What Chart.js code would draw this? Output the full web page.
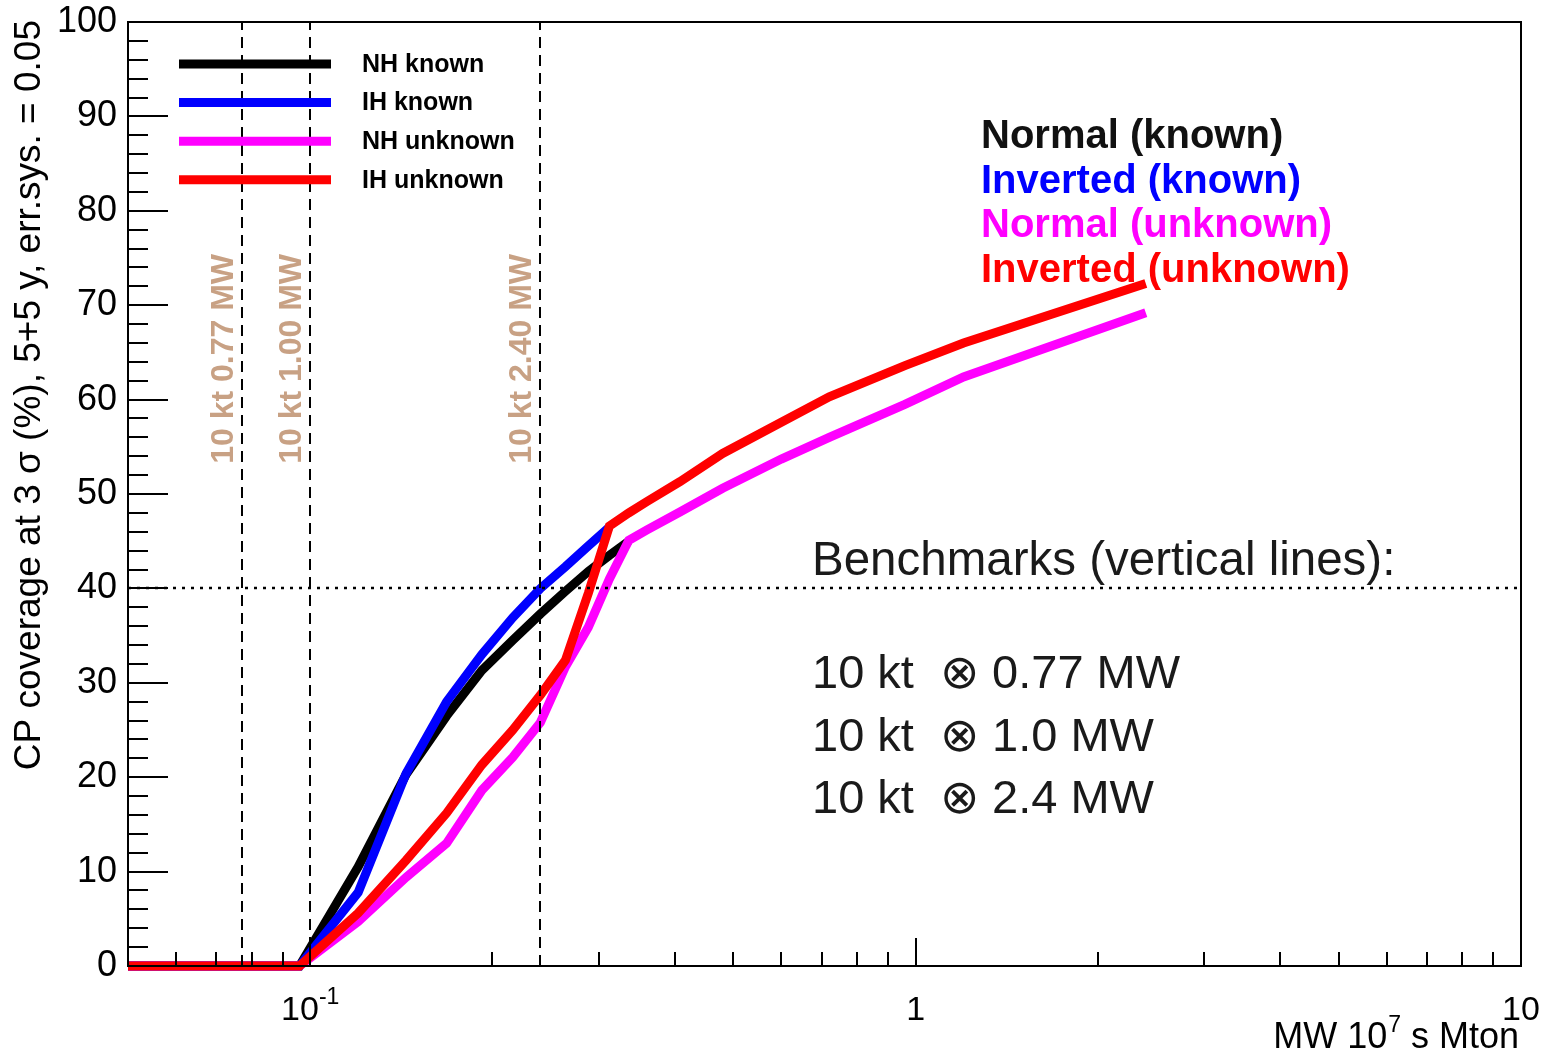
<!DOCTYPE html>
<html>
<head>
<meta charset="utf-8">
<title>CP coverage vs exposure</title>
<script src="https://cdn.jsdelivr.net/npm/chart.js@4.4.1/dist/chart.umd.min.js"></script>
<style>
  html, body { margin: 0; padding: 0; background: #fff; }
  canvas { display: block; }
</style>
</head>
<body>
<canvas id="cpChart" width="1549" height="1055"></canvas>
<script>
// exposure in MW 10^7 s Mton
const exposure = [0.048, 0.072, 0.096, 0.12, 0.144, 0.168, 0.192, 0.216, 0.24, 0.264, 0.288, 0.312, 0.336, 0.36, 0.408, 0.48, 0.6, 0.72, 0.96, 1.2, 2.4];

// CP coverage at 3 sigma (%) for each hierarchy assumption
const nhKnown   = [0, 0, 0, 10.5, 20.3, 26.5, 31.3, 34.5, 37.3, 39.7, 41.8, 43.5, 45.0, null, null, null, null, null, null, null, null];
const ihKnown   = [0, 0, 0, 7.8, 20.4, 28.0, 33.0, 36.9, 40.0, 42.3, 44.5, 46.5, null, null, null, null, null, null, null, null, null];
const nhUnknown = [0, 0, 0, 4.7, 9.4, 13.0, 18.6, 22.1, 25.8, 31.7, 35.9, 41.0, 45.1, 46.2, 48.1, 50.6, 53.7, 56.0, 59.5, 62.4, 69.2];
const ihUnknown = [0, 0, 0, 5.6, 11.2, 16.2, 21.3, 25.0, 28.7, 32.4, 39.5, 46.6, 48.0, 49.2, 51.3, 54.3, 57.6, 60.3, 63.6, 66.0, 72.3];

const seriesNames  = ['NH known', 'IH known', 'NH unknown', 'IH unknown'];
const seriesColors = ['#000000', '#0000ff', '#ff00ff', '#ff0000'];
const hierarchyText = ['Normal (known)', 'Inverted (known)', 'Normal (unknown)', 'Inverted (unknown)'];

// benchmark exposures (vertical lines)
const benchmarks = [0.077, 0.1, 0.24];
const benchmarkTags = ['10 kt 0.77 MW', '10 kt 1.00 MW', '10 kt 2.40 MW'];
const benchmarkRows = ['10 kt  \u2297 0.77 MW', '10 kt  \u2297 1.0 MW', '10 kt  \u2297 2.4 MW'];
const coverageLevel = 40;

const xMajor = [0.1, 1, 10];
const xMinor = [0.06, 0.07, 0.08, 0.09, 0.2, 0.3, 0.4, 0.5, 0.6, 0.7, 0.8, 0.9, 2, 3, 4, 5, 6, 7, 8, 9];
const yMinorStep = 2;

const FONT = '"Liberation Sans", Arial, Helvetica, sans-serif';
const TAN = '#c8a184';
const LINE_W = 9;

const toPoints = (vals) => exposure.map((e, i) => ({ x: e, y: vals[i] }));

const decorations = {
  id: 'decorations',
  afterDatasetsDraw(chart) {
    const { ctx, chartArea: a, scales: { x, y } } = chart;
    ctx.save();

    // dashed benchmark lines
    ctx.strokeStyle = '#000';
    ctx.lineWidth = 2;
    ctx.setLineDash([11, 7]);
    benchmarks.forEach((v) => {
      const px = Math.round(x.getPixelForValue(v));
      ctx.beginPath();
      ctx.moveTo(px, a.bottom);
      ctx.lineTo(px, a.top);
      ctx.stroke();
    });

    // dotted 40% line
    ctx.setLineDash([3, 6]);
    ctx.lineWidth = 2.5;
    const py40 = Math.round(y.getPixelForValue(coverageLevel));
    ctx.beginPath();
    ctx.moveTo(a.left, py40);
    ctx.lineTo(a.right, py40);
    ctx.stroke();
    ctx.setLineDash([]);

    // frame
    ctx.lineWidth = 2;
    ctx.strokeRect(a.left, a.top, a.right - a.left, a.bottom - a.top);

    // ticks, drawn inside the frame
    ctx.beginPath();
    for (let v = y.min; v <= y.max; v += yMinorStep) {
      const py = Math.round(y.getPixelForValue(v));
      const len = v % 10 === 0 ? 40 : 20;
      ctx.moveTo(a.left, py);
      ctx.lineTo(a.left + len, py);
    }
    xMajor.forEach((v) => {
      const px = Math.round(x.getPixelForValue(v));
      ctx.moveTo(px, a.bottom);
      ctx.lineTo(px, a.bottom - 28);
    });
    xMinor.forEach((v) => {
      const px = Math.round(x.getPixelForValue(v));
      ctx.moveTo(px, a.bottom);
      ctx.lineTo(px, a.bottom - 14);
    });
    ctx.stroke();

    // x tick labels
    ctx.fillStyle = '#000';
    ctx.textBaseline = 'alphabetic';
    const labBase = a.bottom + 54;
    ctx.font = `34px ${FONT}`;
    const tenW = ctx.measureText('10').width;
    ctx.font = `23px ${FONT}`;
    const supW = ctx.measureText('-1').width;
    const x01 = x.getPixelForValue(0.1) - (tenW + supW) / 2;
    ctx.textAlign = 'left';
    ctx.font = `34px ${FONT}`;
    ctx.fillText('10', x01, labBase);
    ctx.font = `23px ${FONT}`;
    ctx.fillText('-1', x01 + tenW, labBase - 16);
    ctx.textAlign = 'center';
    ctx.font = `34px ${FONT}`;
    ctx.fillText('1', x.getPixelForValue(1), labBase);
    ctx.fillText('10', x.getPixelForValue(10), labBase);

    // x title, right aligned to the axis end
    const tBase = a.bottom + 82;
    ctx.textAlign = 'left';
    ctx.font = `36px ${FONT}`;
    const partA = 'MW 10', partC = ' s Mton';
    const wA = ctx.measureText(partA).width;
    const wC = ctx.measureText(partC).width;
    ctx.font = `23px ${FONT}`;
    const wB = ctx.measureText('7').width;
    const tx = a.right - 3 - (wA + wB + wC);
    ctx.font = `36px ${FONT}`;
    ctx.fillText(partA, tx, tBase);
    ctx.font = `23px ${FONT}`;
    ctx.fillText('7', tx + wA + 1, tBase - 16);
    ctx.font = `36px ${FONT}`;
    ctx.fillText(partC, tx + wA + wB + 1, tBase);

    // y title, rotated, aligned to the top of the axis
    ctx.save();
    ctx.translate(40, a.top - 2);
    ctx.rotate(-Math.PI / 2);
    ctx.textAlign = 'right';
    ctx.font = `37px ${FONT}`;
    ctx.fillText('CP coverage at 3 \u03c3 (%), 5+5 y, err.sys. = 0.05', 0, 0);
    ctx.restore();

    // benchmark tags along the dashed lines
    ctx.fillStyle = TAN;
    ctx.font = `bold 32px ${FONT}`;
    benchmarks.forEach((v, i) => {
      ctx.save();
      ctx.translate(x.getPixelForValue(v) - 9, y.getPixelForValue(53.2));
      ctx.rotate(-Math.PI / 2);
      ctx.textAlign = 'left';
      ctx.fillText(benchmarkTags[i], 0, 0);
      ctx.restore();
    });

    // legend box
    ctx.lineCap = 'butt';
    ctx.textAlign = 'left';
    ctx.textBaseline = 'middle';
    ctx.font = `bold 25px ${FONT}`;
    chart.data.datasets.forEach((ds, i) => {
      const ly = 64 + i * 38.6;
      ctx.strokeStyle = ds.borderColor;
      ctx.lineWidth = LINE_W;
      ctx.beginPath();
      ctx.moveTo(179, ly);
      ctx.lineTo(331, ly);
      ctx.stroke();
      ctx.fillStyle = '#000';
      ctx.fillText(ds.label, 362, ly + 1);
    });

    // hierarchy captions
    ctx.textBaseline = 'alphabetic';
    ctx.font = `bold 40px ${FONT}`;
    hierarchyText.forEach((t, i) => {
      ctx.fillStyle = seriesColors[i] === '#000000' ? '#111' : seriesColors[i];
      ctx.fillText(t, 981, 148 + i * 44.6);
    });

    // benchmark summary
    ctx.fillStyle = '#1a1a1a';
    ctx.font = `47.5px ${FONT}`;
    ctx.fillText('Benchmarks (vertical lines):', 812, 575);
    ctx.font = `47px ${FONT}`;
    benchmarkRows.forEach((t, i) => {
      ctx.fillText(t, 812, 688 + i * 62.5);
    });

    ctx.restore();
  }
};

const datasets = [nhKnown, ihKnown, nhUnknown, ihUnknown].map((vals, i) => ({
  label: seriesNames[i],
  data: toPoints(vals),
  borderColor: seriesColors[i],
  backgroundColor: seriesColors[i],
  borderWidth: LINE_W,
  pointRadius: 0,
  tension: 0,
  fill: false,
  order: 4 - i, // IH unknown ends up on top
  clip: { left: 0, top: 5, right: 5, bottom: 5 }
}));

new Chart(document.getElementById('cpChart'), {
  type: 'line',
  data: { datasets },
  options: {
    responsive: false,
    animation: false,
    devicePixelRatio: 1,
    layout: { padding: { top: 22, right: 28, left: 0, bottom: 0 } },
    plugins: {
      legend: { display: false },
      tooltip: { enabled: false }
    },
    scales: {
      x: {
        type: 'logarithmic',
        min: 0.05,
        max: 10,
        grid: { display: false, drawTicks: false },
        border: { display: false },
        ticks: { display: false },
        afterFit: (scale) => { scale.height = 89; }
      },
      y: {
        min: 0,
        max: 100,
        grid: { display: false, drawTicks: false },
        border: { display: false },
        ticks: {
          stepSize: 10,
          padding: 11,
          color: '#000',
          font: { family: FONT, size: 36 }
        },
        afterFit: (scale) => {
          scale.width = 128;
          scale.paddingTop = 0;
          scale.paddingBottom = 0;
        }
      }
    }
  },
  plugins: [decorations]
});
</script>
</body>
</html>
